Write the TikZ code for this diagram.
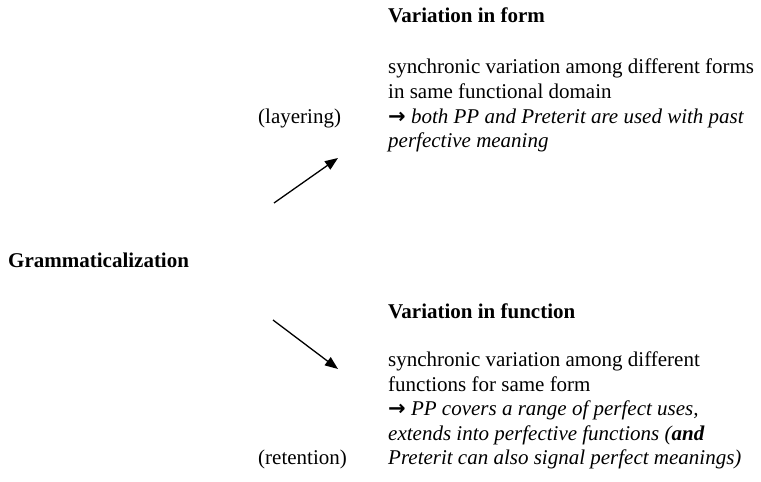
\documentclass[tikz,border=0pt]{standalone}
\usepackage{fontspec}
\setmainfont{Liberation Serif}
\newfontfamily\arrowfont{DejaVu Sans}
\usetikzlibrary{arrows.meta}
\tikzset{
  txt/.style={anchor=base west, inner sep=0pt, font=\fontsize{21}{24.5}\selectfont},
  hd/.style={txt, font=\fontsize{21}{24.5}\selectfont\bfseries},
  ex/.style={txt, font=\fontsize{21}{24.5}\selectfont\itshape},
  arr/.style={line width=1.3pt, -{Triangle[length=13pt,width=10pt]}}
}
\newcommand{\ra}{{\arrowfont\upshape\bfseries →}}
\begin{document}
\begin{tikzpicture}[x=1pt,y=1pt]
\useasboundingbox (0,0) rectangle (761,482);
% top block
\node[hd] (vf) at (388,482-23) {Variation in form};
\node[txt] (vf1) at (388,482-74) {synchronic variation among different forms};
\node[txt] (vf2) at (388,482-99) {in same functional domain};
\node[ex] (vf3) at (388,482-123.5) {\ra\ both PP and Preterit are used with past};
\node[ex] (vf4) at (388,482-148) {perfective meaning};
\node[txt] (lay) at (258,482-123.5) {(layering)};
% center
\node[hd] (gr) at (8,482-268) {Grammaticalization};
% bottom block
\node[hd] (vfn) at (388,482-319) {Variation in function};
\node[txt] (fn1) at (388,482-367) {synchronic variation among different};
\node[txt] (fn2) at (388,482-391.5) {functions for same form};
\node[ex] (fn3) at (388,482-416) {\ra\ PP covers a range of perfect uses,};
\node[ex] (fn4) at (388,482-440.5) {extends into perfective functions (\textbf{and}};
\node[ex] (fn5) at (388,482-465) {Preterit can also signal perfect meanings)};
\node[txt] (ret) at (258,482-465) {(retention)};
% arrows
\coordinate (a1s) at (274,482-203);
\coordinate (a1e) at (338,482-158);
\coordinate (a2s) at (273,482-320);
\coordinate (a2e) at (338,482-369);
\draw[arr] (a1s) -- (a1e);
\draw[arr] (a2s) -- (a2e);
\end{tikzpicture}
\end{document}
